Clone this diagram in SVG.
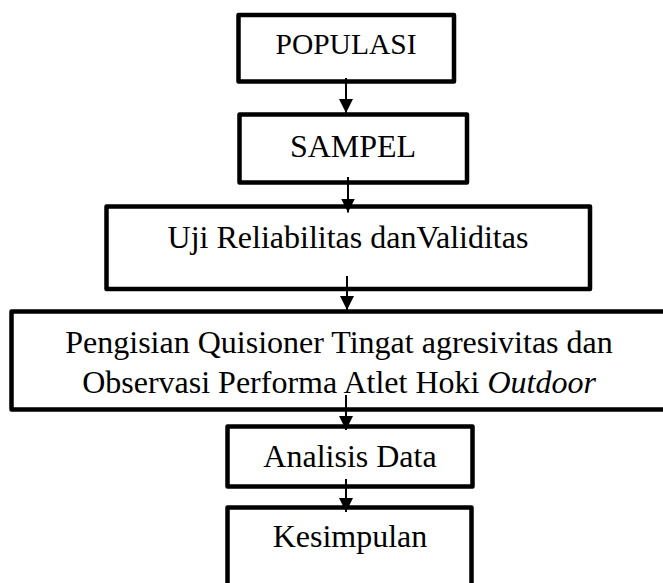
<svg xmlns="http://www.w3.org/2000/svg" width="663" height="583" viewBox="0 0 663 583">
<style>
.box{fill:#fff;stroke:#000;stroke-width:4.5;stroke-linejoin:round}
.t{font-family:"Liberation Serif","Times New Roman",serif;font-size:32px;fill:#000;text-anchor:middle}
.c{stroke:#000;stroke-width:2;fill:none}
</style>
<defs>
<marker id="ah" viewBox="0 0 14 14" refX="14" refY="7" markerWidth="14" markerHeight="14" markerUnits="userSpaceOnUse" orient="auto">
<path d="M0,0 L14,7 L0,14 Z" fill="#000"/>
</marker>
</defs>
<rect width="663" height="583" fill="#fff"/>
<g id="node-populasi">
<rect class="box" x="238.5" y="15" width="215.5" height="66.5"/>
<text class="t" x="346" y="54" style="font-size:29.5px">POPULASI</text>
</g>
<g id="node-sampel">
<rect class="box" x="239.5" y="114.5" width="227.5" height="68"/>
<text class="t" x="353" y="157">SAMPEL</text>
</g>
<g id="node-uji">
<rect class="box" x="106.5" y="206.5" width="483.5" height="82.5"/>
<text class="t" x="348" y="248">Uji Reliabilitas danValiditas</text>
</g>
<g id="node-pengisian">
<rect class="box" x="11.5" y="311.5" width="660" height="98"/>
<text class="t" x="339" y="353">Pengisian Quisioner Tingat agresivitas dan</text>
<text class="t" x="339" y="393">Observasi Performa Atlet Hoki <tspan font-style="italic">Outdoor</tspan></text>
</g>
<g id="node-analisis">
<rect class="box" x="227.5" y="426.5" width="245" height="60"/>
<text class="t" x="350" y="466.5">Analisis Data</text>
</g>
<g id="node-kesimpulan">
<rect class="box" x="227.5" y="507.5" width="244" height="90"/>
<text class="t" x="350" y="546.5">Kesimpulan</text>
</g>
<g id="connectors">
<line class="c" x1="346" y1="78" x2="346" y2="113" marker-end="url(#ah)"/>
<line class="c" x1="348" y1="177" x2="348" y2="212.5" marker-end="url(#ah)"/>
<line class="c" x1="347" y1="276" x2="347" y2="310" marker-end="url(#ah)"/>
<line class="c" x1="346" y1="395" x2="346" y2="430" marker-end="url(#ah)"/>
<line class="c" x1="346" y1="479" x2="346" y2="512" marker-end="url(#ah)"/>
</g>
</svg>
